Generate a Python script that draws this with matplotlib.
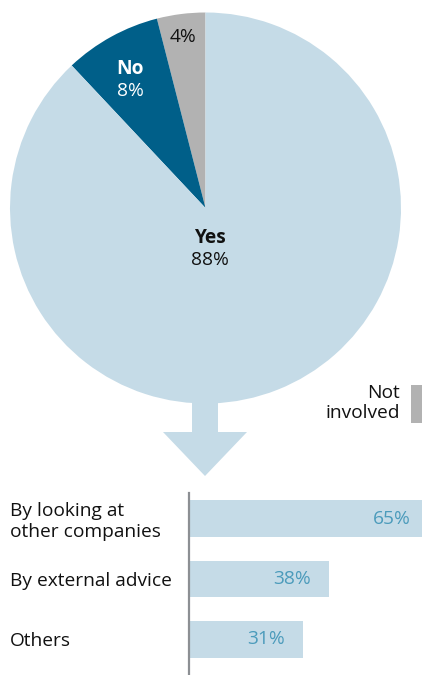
import matplotlib
matplotlib.use("Agg")
import matplotlib.pyplot as plt
from matplotlib.patches import Polygon

plt.rcParams['font.family'] = ['Open Sans', 'DejaVu Sans']

pie_labels = ["Not involved", "No", "Yes"]
pie_values = [4, 8, 88]
pie_colors = ["#b2b2b2", "#005f89", "#c5dbe7"]

bar_labels = ["By looking at\nother companies", "By external advice", "Others"]
bar_values = [65, 38, 31]

W, H = 422, 675
fig = plt.figure(figsize=(W/100, H/100), dpi=100)

# Pie axes
cx, cy, r = 205.5, 208, 195.5
axp = fig.add_axes([(cx - r)/W, 1 - (cy + r)/H, 2*r/W, 2*r/H])
wedges, _ = axp.pie(pie_values, colors=pie_colors, startangle=90, counterclock=True,
                    radius=1, wedgeprops=dict(linewidth=0))
axp.set_xlim(-1, 1); axp.set_ylim(-1, 1)
axp.set_aspect('equal')
axp.axis('off')

def fx(px): return px / W
def fy(py): return 1 - py / H

fs = 13.8
fig.text(fx(210), fy(238), "Yes", ha='center', va='center', fontsize=fs, fontweight='bold', color='#111111')
fig.text(fx(210), fy(260), "88%", ha='center', va='center', fontsize=fs, color='#111111')
fig.text(fx(130), fy(69), "No", ha='center', va='center', fontsize=fs, fontweight='bold', color='white')
fig.text(fx(130), fy(91), "8%", ha='center', va='center', fontsize=fs, color='white')
fig.text(fx(183), fy(37), "4%", ha='center', va='center', fontsize=fs, color='#111111')

# Legend for Not involved
fig.text(fx(400), fy(403), "Not\ninvolved", ha='right', va='center', fontsize=fs,
         color='#111111', linespacing=1.15)
fig.patches.append(plt.Rectangle((fx(411), fy(423)), fx(11), (423-385)/H,
                                 transform=fig.transFigure, color=pie_colors[0], lw=0))

# Arrow
arrow_pts = [(192, 400), (218, 400), (218, 432), (247, 432), (205, 476), (163, 432), (192, 432)]
fig.patches.append(Polygon([(fx(x), fy(y)) for x, y in arrow_pts], closed=True,
                           transform=fig.transFigure, color=pie_colors[2], lw=0))

# Bars
x0 = 189
axb = fig.add_axes([fx(x0), fy(675), (W - x0)/W, (675 - 493)/H])
ypos = [0, 1, 2]
axb.barh(ypos, bar_values, height=0.61, color=pie_colors[2], lw=0)
axb.set_xlim(0, (W - x0) / 3.68)
c0 = 518.5; sp = 60.5
top_val = 0 - (c0 - 493)/sp
bot_val = 0 + (675 - c0)/sp
axb.set_ylim(bot_val, top_val)
for y, v in zip(ypos, bar_values):
    axb.text(v - 4.8, y, f"{v}%", ha='right', va='center', fontsize=fs, color='#4b9bbb')
axb.set_xticks([])
axb.set_yticks(ypos)
axb.set_yticklabels(bar_labels, fontsize=fs, color='#111111', linespacing=1.2)
for lbl in axb.get_yticklabels():
    lbl.set_horizontalalignment('left')
axb.tick_params(axis='y', length=0, pad=(x0 - 10) * 72 / 100)
for s in ['top', 'right', 'bottom']:
    axb.spines[s].set_visible(False)
axb.spines['left'].set_color('#8c8f93')
axb.spines['left'].set_linewidth(1.6)

fig.savefig("out.png", dpi=100)
